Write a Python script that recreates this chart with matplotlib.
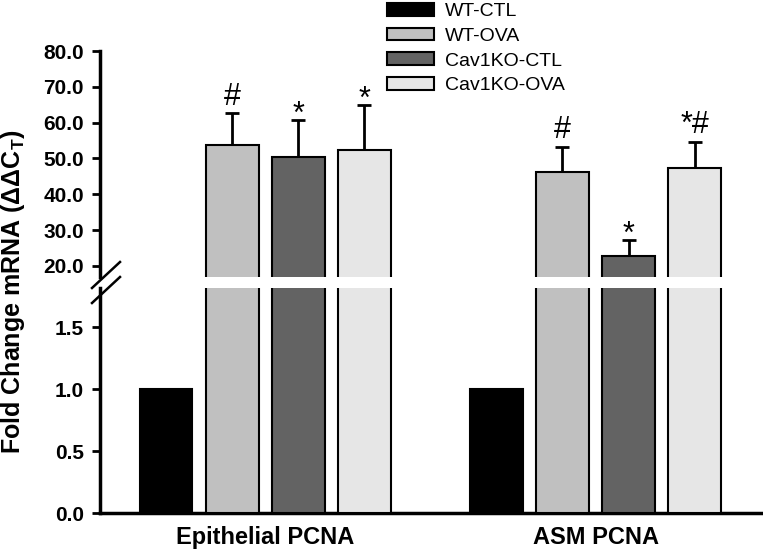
import matplotlib
matplotlib.use('Agg')
import matplotlib.pyplot as plt
from matplotlib.patches import Patch
from matplotlib.lines import Line2D

# datos
groups = ['Epithelial PCNA', 'ASM PCNA']
series = ['WT-CTL', 'WT-OVA', 'Cav1KO-CTL', 'Cav1KO-OVA']
colors = ['#000000', '#c0c0c0', '#636363', '#e6e6e6']
epi_vals = [1.0, 53.7, 50.5, 52.3]
epi_err = [0.0, 9.0, 10.2, 12.6]
asm_vals = [1.0, 46.3, 22.8, 47.4]
asm_err = [0.0, 7.0, 4.5, 7.3]
epi_marks = ['', '#', '*', '*']
asm_marks = ['', '#', '*', '*#']

plt.rcParams['font.family'] = ['Liberation Sans', 'DejaVu Sans']
plt.rcParams['mathtext.fontset'] = 'custom'
plt.rcParams['mathtext.rm'] = 'Liberation Sans'

fig = plt.figure(figsize=(7.63, 5.56), dpi=100)
ax_top = fig.add_axes([0.131, 0.502, 0.866, 0.406])
ax_bot = fig.add_axes([0.131, 0.0773, 0.866, 0.405])

pos = [0, 1, 2, 3, 5, 6, 7, 8]
vals = epi_vals + asm_vals
errs = epi_err + asm_err
marks = epi_marks + asm_marks
cols = colors + colors

for ax in (ax_top, ax_bot):
    ax.bar(pos, vals, width=0.8, color=cols, edgecolor='black', linewidth=1.5, zorder=3)
    ax.errorbar(pos, vals, yerr=[[0] * 8, errs], fmt='none', ecolor='black',
                elinewidth=2, capsize=4.7, capthick=2, zorder=2)
    ax.set_xlim(-1.0, 9.0)
    for s in ['top', 'right']:
        ax.spines[s].set_visible(False)
    ax.spines['left'].set_linewidth(2.5)
    ax.tick_params(axis='y', direction='out', length=5.5, width=2, pad=6)

ax_top.set_ylim(16.9, 80)
ax_top.set_yticks([20, 30, 40, 50, 60, 70, 80])
ax_top.set_yticklabels(['%.1f' % v for v in [20, 30, 40, 50, 60, 70, 80]],
                       fontweight='bold', fontsize=15)
ax_top.spines['bottom'].set_visible(False)
ax_top.set_xticks([])

ax_bot.set_ylim(0, 1.82)
ax_bot.set_yticks([0, 0.5, 1.0, 1.5])
ax_bot.set_yticklabels(['0.0', '0.5', '1.0', '1.5'], fontweight='bold', fontsize=15)
ax_bot.spines['bottom'].set_linewidth(2.5)
ax_bot.set_xticks([1.5, 6.5])
ax_bot.set_xticklabels(groups, fontweight='bold', fontsize=17)
ax_bot.tick_params(axis='x', length=0, pad=9)

# marcas de significancia
for p, v, e, m in zip(pos, vals, errs, marks):
    if not m:
        continue
    off = 6 if '#' in m else -2
    ax_top.annotate(m, (p, v + e), xytext=(0, off), textcoords='offset points',
                    ha='center', va='baseline', fontsize=22)

# corte del eje
for dy in (0, 15):
    fig.add_artist(Line2D([92 / 763, 120 / 763], [1 - (288 + dy) / 556, 1 - (262 + dy) / 556],
                          color='black', lw=1.8))

handles = [Patch(facecolor=c, edgecolor='black', linewidth=1.5) for c in colors]
fig.legend(handles, series, loc='upper left', bbox_to_anchor=(0.497, 1.008), frameon=False,
           fontsize=14, handlelength=2.42, handleheight=0.62, handletextpad=0.57,
           labelspacing=0.38, borderaxespad=0)

fig.text(0.017, 0.476, 'Fold Change mRNA (\u0394\u0394C$_\\mathregular{T}$)', rotation=90,
         ha='center', va='center', fontsize=18, fontweight='bold')

plt.savefig('out.png', dpi=100)
